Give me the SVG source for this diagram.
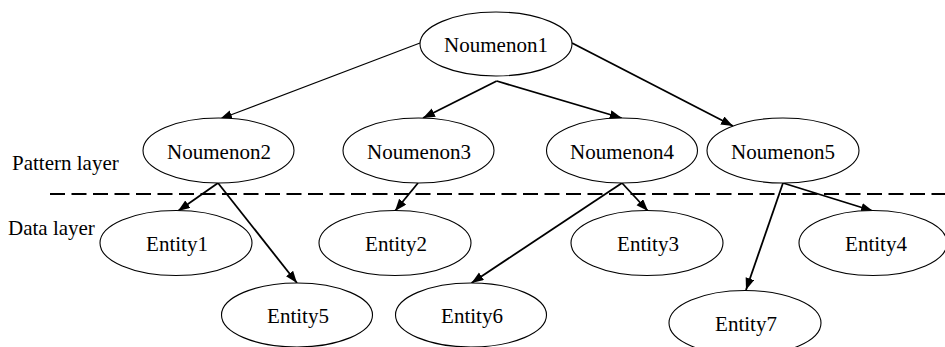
<svg xmlns="http://www.w3.org/2000/svg" width="945" height="347" viewBox="0 0 945 347">
  <style>
    .node ellipse { fill: #ffffff; stroke: #000000; stroke-width: 1.1; }
    text { font-family: 'Liberation Serif', 'Times New Roman', serif; font-size: 21px; fill: #000000; }
    .node text { text-anchor: middle; }
    .edge { stroke: #000000; stroke-width: 1.8; fill: none; marker-end: url(#arrow); }
    .edge.thin { stroke-width: 1.1; }
    .divider { stroke: #000000; stroke-width: 2; stroke-dasharray: 15 6.5; }
  </style>
  <defs>
    <marker id="arrow" markerUnits="userSpaceOnUse" markerWidth="13" markerHeight="10" refX="12" refY="4.5" orient="auto">
      <path d="M0,0 L12,4.5 L0,9 Z" fill="#000000"/>
    </marker>
  </defs>
  <rect width="945" height="347" fill="#ffffff"/>

  <!-- boundary between the two layers -->
  <line class="divider" x1="50" y1="194" x2="945" y2="194"/>
  <text x="12" y="170">Pattern layer</text>
  <text x="8" y="235">Data layer</text>

  <!-- connectors -->
  <g id="edges">
    <line class="edge thin" x1="420" y1="43" x2="220" y2="119"/>
    <line class="edge" x1="496.7" y1="81" x2="423" y2="118"/>
    <line class="edge" x1="496.7" y1="81" x2="621.7" y2="118"/>
    <line class="edge" x1="572" y1="43" x2="733" y2="126"/>
    <line class="edge" x1="218" y1="183" x2="178" y2="211"/>
    <line class="edge" x1="218" y1="183" x2="297" y2="283"/>
    <line class="edge" x1="418" y1="183" x2="395" y2="211"/>
    <line class="edge" x1="622" y1="183" x2="648" y2="211"/>
    <line class="edge" x1="622" y1="183" x2="471.5" y2="283"/>
    <line class="edge" x1="783" y1="183" x2="873" y2="211"/>
    <line class="edge" x1="783" y1="183" x2="746" y2="290"/>
  </g>

  <!-- pattern layer nodes -->
  <g id="noumenon1" class="node"><ellipse cx="496" cy="44" rx="76" ry="32"/><text x="496" y="51.5">Noumenon1</text></g>
  <g id="noumenon2" class="node"><ellipse cx="218.5" cy="150.5" rx="75.5" ry="32.5"/><text x="219" y="158.5">Noumenon2</text></g>
  <g id="noumenon3" class="node"><ellipse cx="418.5" cy="150.5" rx="75.5" ry="32.5"/><text x="419" y="158.5">Noumenon3</text></g>
  <g id="noumenon4" class="node"><ellipse cx="622" cy="150.5" rx="75.5" ry="32.5"/><text x="622" y="158.5">Noumenon4</text></g>
  <g id="noumenon5" class="node"><ellipse cx="783" cy="150.5" rx="76" ry="32.5"/><text x="783" y="158.5">Noumenon5</text></g>

  <!-- data layer nodes -->
  <g id="entity1" class="node"><ellipse cx="176" cy="243" rx="76" ry="32.5"/><text x="177" y="251">Entity1</text></g>
  <g id="entity2" class="node"><ellipse cx="395" cy="243" rx="76" ry="32.5"/><text x="396" y="251">Entity2</text></g>
  <g id="entity3" class="node"><ellipse cx="647" cy="243" rx="76" ry="32.5"/><text x="648" y="251">Entity3</text></g>
  <g id="entity4" class="node"><ellipse cx="873" cy="243" rx="74" ry="32.5"/><text x="876" y="251">Entity4</text></g>
  <g id="entity5" class="node"><ellipse cx="297" cy="315" rx="75.5" ry="32"/><text x="298" y="323">Entity5</text></g>
  <g id="entity6" class="node"><ellipse cx="471" cy="315" rx="75.5" ry="32"/><text x="472" y="323">Entity6</text></g>
  <g id="entity7" class="node"><ellipse cx="745" cy="323" rx="76" ry="32.5"/><text x="746" y="330.5">Entity7</text></g>
</svg>
